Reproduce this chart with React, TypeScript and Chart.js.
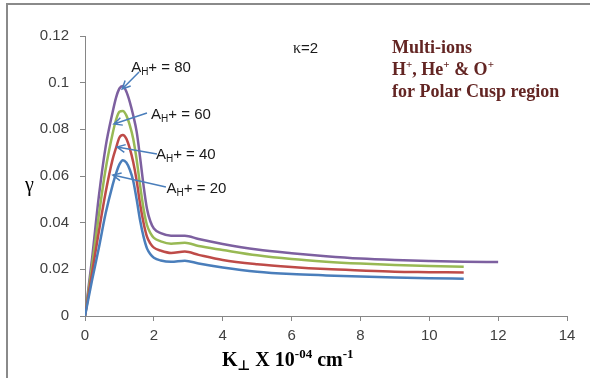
import React, { useEffect, useRef } from "react";
import { Chart, registerables } from "chart.js";
Chart.register(...registerables);

const kValues = [0, 0.2, 0.4, 0.6, 0.8, 0.9, 1.0, 1.1, 1.2, 1.3, 1.4, 1.5, 1.6, 1.7, 1.8, 1.9, 2.0, 2.2, 2.5, 2.9, 3.3, 4, 5, 6, 7, 8, 9, 10, 11];
const kValuesLong = [0, 0.2, 0.4, 0.6, 0.8, 0.9, 1.0, 1.1, 1.2, 1.3, 1.4, 1.5, 1.6, 1.7, 1.8, 1.9, 2.0, 2.2, 2.5, 2.9, 3.3, 4, 5, 6, 7, 8, 9, 10, 11, 12];

const gamma20 = [0, 0.015, 0.029, 0.044, 0.056, 0.061, 0.065, 0.0668, 0.0658, 0.0628, 0.058, 0.050, 0.041, 0.034, 0.029, 0.0265, 0.025, 0.0238, 0.0232, 0.0237, 0.0225, 0.0208, 0.019, 0.018, 0.0174, 0.0169, 0.0165, 0.0162, 0.016];
const gamma40 = [0, 0.018, 0.036, 0.053, 0.067, 0.072, 0.0765, 0.0776, 0.076, 0.0718, 0.066, 0.058, 0.048, 0.040, 0.034, 0.031, 0.0293, 0.028, 0.027, 0.0276, 0.0262, 0.024, 0.0222, 0.021, 0.0201, 0.0195, 0.019, 0.0188, 0.0186];
const gamma60 = [0, 0.021, 0.043, 0.063, 0.078, 0.084, 0.0875, 0.0879, 0.086, 0.0818, 0.076, 0.067, 0.056, 0.046, 0.039, 0.0355, 0.0335, 0.032, 0.031, 0.0314, 0.030, 0.0283, 0.026, 0.0244, 0.0233, 0.0225, 0.0219, 0.0214, 0.0211];
const gamma80 = [0, 0.024, 0.051, 0.0726, 0.0872, 0.0935, 0.0975, 0.0986, 0.0962, 0.0918, 0.086, 0.079, 0.068, 0.056, 0.046, 0.0405, 0.0375, 0.0355, 0.0344, 0.0344, 0.033, 0.0309, 0.0285, 0.0269, 0.0256, 0.0246, 0.024, 0.0236, 0.0233, 0.0231];

const seriesNames = ["AH+ = 20", "AH+ = 40", "AH+ = 60", "AH+ = 80"];
const seriesValues = ["20", "40", "60", "80"];
const seriesColors = ["#4A7EBB", "#BE4B48", "#98B954", "#7D60A0"];

const xTickLabels = ["0", "2", "4", "6", "8", "10", "12", "14"];
const yTickLabels = ["0", "0.02", "0.04", "0.06", "0.08", "0.1", "0.12"];

// annotation anchors in data units: [textX, textBaselineY, arrowStartX, arrowStartY, tipX, tipY]
const labelAnchors = [
  [2.37, 0.0527, 2.35, 0.0553, 0.81, 0.0604],
  [2.06, 0.0673, 2.09, 0.0694, 0.93, 0.0724],
  [1.92, 0.0844, 1.80, 0.0870, 0.84, 0.0823],
  [1.34, 0.1046, 1.57, 0.1046, 1.08, 0.0973],
];

const SANS = "'Liberation Sans', Arial, sans-serif";
const SERIF = "'Liberation Serif', 'Times New Roman', serif";

type Part = { t: string; font: string; dy?: number };
function drawParts(ctx: CanvasRenderingContext2D, parts: Part[], x: number, y: number, color: string) {
  ctx.fillStyle = color;
  ctx.textBaseline = "alphabetic";
  ctx.textAlign = "left";
  let cx = x;
  for (const p of parts) {
    ctx.font = p.font;
    ctx.fillText(p.t, cx, y + (p.dy || 0));
    cx += ctx.measureText(p.t).width;
  }
}

const decorPlugin = {
  id: "decor",
  beforeDraw(chart: any) {
    const ctx = chart.ctx as CanvasRenderingContext2D;
    ctx.save();
    ctx.fillStyle = "#ffffff";
    ctx.fillRect(0, 0, chart.width, chart.height);
    ctx.strokeStyle = "#8a8a8a";
    ctx.lineWidth = 2;
    ctx.beginPath();
    ctx.moveTo(7, chart.height);
    ctx.lineTo(7, 4);
    ctx.lineTo(chart.width, 4);
    ctx.stroke();
    ctx.restore();
  },
  afterDatasetsDraw(chart: any) {
    const ctx = chart.ctx as CanvasRenderingContext2D;
    const xs = chart.scales.x;
    const ys = chart.scales.y;
    ctx.save();
    labelAnchors.forEach((a, i) => {
      const tx = xs.getPixelForValue(a[0]);
      const ty = ys.getPixelForValue(a[1]);
      const sx = xs.getPixelForValue(a[2]);
      const sy = ys.getPixelForValue(a[3]);
      const ex = xs.getPixelForValue(a[4]);
      const ey = ys.getPixelForValue(a[5]);
      ctx.strokeStyle = "#4A7EBB";
      ctx.lineWidth = 1.5;
      ctx.beginPath();
      ctx.moveTo(sx, sy);
      ctx.lineTo(ex, ey);
      const ang = Math.atan2(ey - sy, ex - sx);
      const L = 9;
      const w = 0.45;
      ctx.moveTo(ex - L * Math.cos(ang - w), ey - L * Math.sin(ang - w));
      ctx.lineTo(ex, ey);
      ctx.lineTo(ex - L * Math.cos(ang + w), ey - L * Math.sin(ang + w));
      ctx.stroke();
      drawParts(
        ctx,
        [
          { t: "A", font: `15px ${SANS}` },
          { t: "H", font: `10px ${SANS}`, dy: 3 },
          { t: "+ = " + seriesValues[i], font: `15px ${SANS}` },
        ],
        tx,
        ty,
        "#1a1a1a"
      );
    });

    drawParts(
      ctx,
      [
        { t: "κ", font: `16px ${SERIF}` },
        { t: "=2", font: `15px ${SANS}` },
      ],
      xs.getPixelForValue(6.04),
      53,
      "#1a1a1a"
    );

    const red = "#632523";
    const bx = xs.getPixelForValue(8.92);
    const bf = `bold 18px ${SERIF}`;
    const sf = `bold 11px ${SERIF}`;
    drawParts(ctx, [{ t: "Multi-ions", font: bf }], bx, 53, red);
    drawParts(
      ctx,
      [
        { t: "H", font: bf },
        { t: "+", font: sf, dy: -7 },
        { t: ", He", font: bf },
        { t: "+", font: sf, dy: -7 },
        { t: " & O", font: bf },
        { t: "+", font: sf, dy: -7 },
      ],
      bx,
      75,
      red
    );
    drawParts(ctx, [{ t: "for Polar Cusp region", font: bf }], bx, 97, red);

    const tf = `bold 20px ${SERIF}`;
    const tsf = `bold 13px ${SERIF}`;
    drawParts(
      ctx,
      [
        { t: "K", font: tf },
        { t: "⊥", font: `bold 14px 'DejaVu Sans'`, dy: 4 },
        { t: " X 10", font: tf },
        { t: "-04", font: tsf, dy: -8 },
        { t: " cm", font: tf },
        { t: "-1", font: tsf, dy: -8 },
      ],
      222,
      366,
      "#000000"
    );

    drawParts(ctx, [{ t: "γ", font: `20px ${SERIF}` }], 25, 191, "#000000");
    ctx.restore();
  },
};

export default function App() {
  const ref = useRef<HTMLCanvasElement | null>(null);
  useEffect(() => {
    if (!ref.current) return;
    const allY = [gamma20, gamma40, gamma60, gamma80];
    const datasets = allY.map((ys, i) => {
      const xs = i === 3 ? kValuesLong : kValues;
      return {
        label: seriesNames[i],
        data: ys.map((y, j) => ({ x: xs[j], y })),
        borderColor: seriesColors[i],
        backgroundColor: seriesColors[i],
        borderWidth: 2.5,
        pointRadius: 0,
        fill: false,
        cubicInterpolationMode: "monotone" as const,
      };
    });
    const chart = new Chart(ref.current, {
      type: "line",
      data: { datasets },
      plugins: [decorPlugin],
      options: {
        responsive: false,
        animation: false,
        layout: { padding: { left: 0, right: 23, top: 36, bottom: 0 } },
        plugins: { legend: { display: false }, tooltip: { enabled: false } },
        scales: {
          x: {
            type: "linear",
            min: 0,
            max: 14,
            ticks: {
              stepSize: 2,
              color: "#404040",
              font: { family: SANS, size: 15 },
              padding: 6,
              maxRotation: 0,
              callback: (v: any) => {
                const idx = Math.round(Number(v) / 2);
                return xTickLabels[idx] ?? "";
              },
            },
            grid: { drawOnChartArea: false, drawTicks: true, tickLength: 5, color: "#868686" },
            border: { color: "#868686", width: 1 },
            afterFit: (s: any) => {
              s.height = 62;
            },
          },
          y: {
            min: 0,
            max: 0.12,
            ticks: {
              stepSize: 0.02,
              color: "#404040",
              font: { family: SANS, size: 15 },
              padding: 11,
              callback: (v: any) => {
                const idx = Math.round(Number(v) / 0.02);
                return yTickLabels[idx] ?? "";
              },
            },
            grid: { drawOnChartArea: false, drawTicks: true, tickLength: 5, color: "#868686" },
            border: { color: "#868686", width: 1 },
            afterFit: (s: any) => {
              s.width = 85;
            },
          },
        },
      },
    });
    return () => chart.destroy();
  }, []);
  return (
    <div style={{ position: "fixed", left: 0, top: 0, width: 590, height: 378, background: "#fff" }}>
      <canvas ref={ref} width={590} height={378} style={{ display: "block", width: 590, height: 378 }} />
    </div>
  );
}
